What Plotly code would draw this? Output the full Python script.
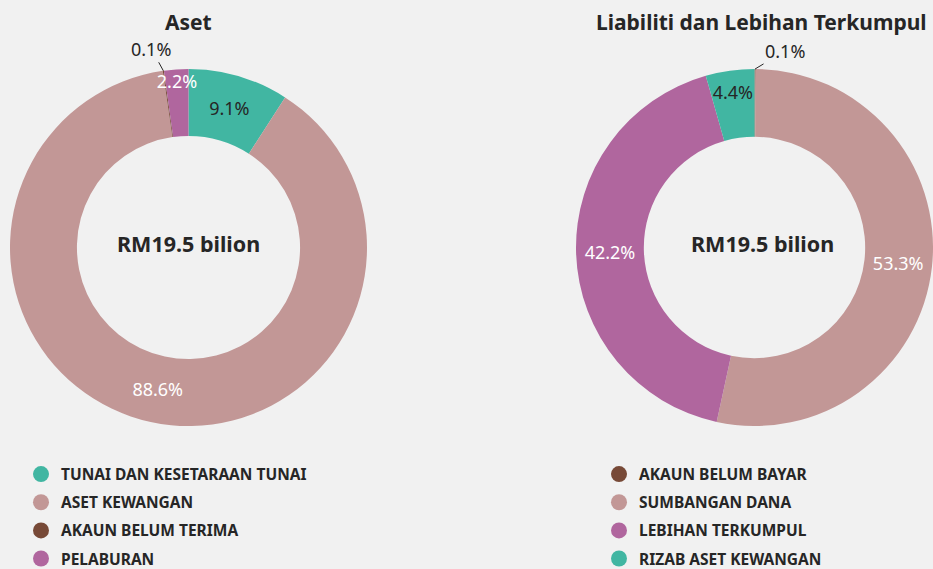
import math
import plotly.graph_objects as go

# Data
aset_labels = ["TUNAI DAN KESETARAAN TUNAI", "ASET KEWANGAN", "AKAUN BELUM TERIMA", "PELABURAN"]
aset_values = [9.1, 88.6, 0.1, 2.2]
aset_colors = ["#41b6a2", "#c29796", "#774937", "#b0669e"]

liab_labels = ["AKAUN BELUM BAYAR", "SUMBANGAN DANA", "LEBIHAN TERKUMPUL", "RIZAB ASET KEWANGAN"]
liab_values = [0.1, 53.3, 42.2, 4.4]
liab_colors = ["#774937", "#c29796", "#b0669e", "#41b6a2"]

aset_title = "Aset"
liab_title = "Liabiliti dan Lebihan Terkumpul"
center_text = "RM19.5 bilion"

FONT = "Noto Sans"
BG = "#f1f1f1"
DARK = "#262626"
PCT = 18

W, H = 933, 569

# pie domains (pixels -> paper)
LEFT_DOM = (10, 367, 69, 426)    # x0, x1, y0(top), y1(bottom)
RIGHT_DOM = (576, 933, 69, 426)


def text_colors(cols):
    return [DARK if c == "#41b6a2" else "white" for c in cols]


def positions(vals):
    return ["none" if v < 1 else "inside" for v in vals]


def domain(d):
    x0, x1, t, b = d
    return dict(x=[x0 / W, x1 / W], y=[1 - b / H, 1 - t / H])


def small_slice_annotations(values, d, offset):
    """Leader-line labels for tiny slices, anchored at the slice's outer edge."""
    x0, x1, t, b = d
    r = min(x1 - x0, b - t) / 2
    cx, cy = (x0 + x1) / 2, (t + b) / 2
    total = sum(values)
    out = []
    cum = 0
    for v in values:
        if v < 1:
            ang = 2 * math.pi * (cum + v / 2) / total
            px = cx + r * math.sin(ang)
            py = cy - r * math.cos(ang)
            out.append(dict(x=px / W, y=1 - py / H, xref="paper", yref="paper",
                            text="%.1f%%" % v, showarrow=True, arrowhead=0,
                            arrowwidth=1, arrowcolor=DARK, standoff=0,
                            ax=offset[0], ay=offset[1],
                            font=dict(family=FONT, size=PCT, color=DARK)))
        cum += v
    return out


fig = go.Figure()

fig.add_trace(go.Pie(
    labels=aset_labels, values=aset_values, sort=False, direction="clockwise",
    hole=0.625, marker=dict(colors=aset_colors, line=dict(width=0)),
    texttemplate="%{value:.1f}%", textposition=positions(aset_values),
    insidetextorientation="horizontal",
    insidetextfont=dict(family=FONT, size=PCT, color=text_colors(aset_colors)),
    showlegend=False, domain=domain(LEFT_DOM),
    hoverinfo="label+percent",
))

fig.add_trace(go.Pie(
    labels=liab_labels, values=liab_values, sort=False, direction="clockwise",
    hole=0.62, marker=dict(colors=liab_colors, line=dict(width=0)),
    texttemplate="%{value:.1f}%", textposition=positions(liab_values),
    insidetextorientation="horizontal",
    insidetextfont=dict(family=FONT, size=PCT, color=text_colors(liab_colors)),
    showlegend=False, domain=domain(RIGHT_DOM),
    hoverinfo="label+percent",
))

# Legend entries (circle markers)
for i, (lab, col) in enumerate(zip(aset_labels, aset_colors)):
    fig.add_trace(go.Scatter(x=[None], y=[None], mode="markers", name=lab,
                             marker=dict(size=18, color=col, symbol="circle"),
                             legend="legend", legendgroup="a%d" % i, showlegend=True))
for i, (lab, col) in enumerate(zip(liab_labels, liab_colors)):
    fig.add_trace(go.Scatter(x=[None], y=[None], mode="markers", name=lab,
                             marker=dict(size=18, color=col, symbol="circle"),
                             legend="legend2", legendgroup="b%d" % i, showlegend=True))

leg_common = dict(font=dict(family=FONT, size=15.5, color=DARK, weight="bold"),
                  bgcolor="rgba(0,0,0,0)", tracegroupgap=5, itemsizing="trace",
                  xanchor="left", yanchor="top", orientation="v")


def ann(text, x, y, size):
    return dict(text="<b>%s</b>" % text, x=x / W, y=1 - y / H, xref="paper", yref="paper",
                xanchor="center", yanchor="middle", showarrow=False,
                font=dict(family=FONT, size=size, color=DARK))


annotations = [
    ann(aset_title, 188, 22, 21),
    ann(liab_title, 761, 22, 21),
    ann(center_text, 188, 243, 21.5),
    ann(center_text, 762, 243, 21.5),
]
annotations += small_slice_annotations(aset_values, LEFT_DOM, (-12, -22))
annotations += small_slice_annotations(liab_values, RIGHT_DOM, (30, -18))

fig.update_layout(
    autosize=True,
    margin=dict(l=0, r=0, t=0, b=0, autoexpand=False),
    paper_bgcolor=BG, plot_bgcolor=BG,
    font=dict(family=FONT, color=DARK),
    xaxis=dict(visible=False), yaxis=dict(visible=False),
    uniformtext=dict(minsize=PCT, mode="show"),
    legend=dict(x=21 / W, y=1 - 457.5 / H, **leg_common),
    legend2=dict(x=599 / W, y=1 - 457.5 / H, **leg_common),
    annotations=annotations,
)

fig.write_html("out.html", config={"displayModeBar": False, "responsive": True},
               default_width="100vw", default_height="100vh",
               post_script="document.documentElement.style.overflow='hidden';document.body.style.margin='0';document.body.style.overflow='hidden';")
